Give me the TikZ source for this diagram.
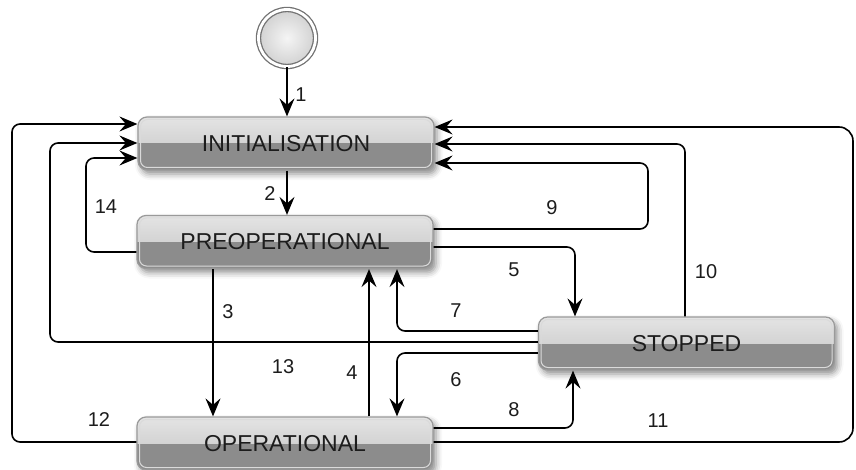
\documentclass[tikz,border=0pt]{standalone}
\usepackage{fontspec}
\setmainfont{Liberation Sans}
\usetikzlibrary{arrows.meta,shadows.blur,calc}

\definecolor{boxtop}{HTML}{E4E4E4}
\definecolor{boxmid}{HTML}{C2C2C2}
\definecolor{boxlow}{HTML}{8C8C8C}
\definecolor{boxedge}{HTML}{9A9A9A}
\definecolor{boxgloss}{HTML}{DADADA}
\definecolor{ink}{HTML}{1C1C1C}

\tikzset{
  statebox/.style={
    rounded corners=9pt, minimum width=296pt, minimum height=53pt,
    inner sep=0pt, draw=boxedge, line width=1.2pt,
    font=\fontsize{23}{25}\selectfont, text=ink,
    blur shadow={shadow xshift=3pt, shadow yshift=-4pt,
                 shadow blur radius=6pt, shadow opacity=45},
    path picture={
      \fill[sharp corners, top color=boxtop, bottom color=boxmid]
        (path picture bounding box.north west) rectangle (path picture bounding box.east);
      \fill[sharp corners, boxlow]
        (path picture bounding box.west) rectangle (path picture bounding box.south east);
      \draw[boxgloss, line width=1pt, rounded corners=7pt]
        ([shift={(2.5pt,-2.5pt)}]path picture bounding box.north west) rectangle
        ([shift={(-2.5pt,2.5pt)}]path picture bounding box.south east);
    }},
  startdot/.style={circle, minimum size=57pt, inner sep=0pt,
    draw=black!55, line width=1.3pt, double=white, double distance=2.8pt,
    inner color=white!96!black, outer color=black!18},
  flow/.style={draw=black, line width=1.6pt, rounded corners=8pt,
    -{Stealth[length=18pt,width=15pt,inset=6.5pt]}},
  num/.style={font=\fontsize{20}{22}\selectfont, text=ink, inner sep=0pt},
}

\begin{document}
\begin{tikzpicture}[x=1pt,y=-1pt]
\useasboundingbox (0,0) rectangle (856,470);

% states
\node[startdot] (st) at (287,38) {};
\node[statebox] (I) at (286,143.5) {INITIALISATION};
\node[statebox] (P) at (285,242) {PREOPERATIONAL};
\node[statebox] (O) at (285,443.5) {OPERATIONAL};
\node[statebox] (S) at (686.5,343.5) {STOPPED};

% routing points of the transitions
\coordinate (c1) at (287,0);
\coordinate (c3) at (213,0);
\coordinate (c4) at (369,0);
\coordinate (c5) at (575,247);
\coordinate (c6) at (397,353);
\coordinate (c7) at (397,331);
\coordinate (c8) at (573,428);
\coordinate (c9a) at (648,229);
\coordinate (c9b) at (648,163);
\coordinate (c10) at (685,144);
\coordinate (c11a) at (853,442);
\coordinate (c11b) at (853,127);
\coordinate (c12a) at (12,442);
\coordinate (c12b) at (12,124);
\coordinate (c13a) at (50,342);
\coordinate (c13b) at (50,143);
\coordinate (c14a) at (86,252);
\coordinate (c14b) at (86,158);

% transitions
\draw[flow] (st.south -| c1) -- (I.north -| c1);
\draw[flow] (I.south -| c1) -- (P.north -| c1);
\draw[flow] (P.south -| c3) -- (O.north -| c3);
\draw[flow] (O.north -| c4) -- (P.south -| c4);
\draw[flow] (P.east |- c5) -- (c5) -- (S.north -| c5);
\draw[flow] (S.west |- c6) -- (c6) -- (O.north -| c6);
\draw[flow] (S.west |- c7) -- (c7) -- (P.south -| c7);
\draw[flow] (O.east |- c8) -- (c8) -- (S.south -| c8);
\draw[flow] (P.east |- c9a) -- (c9a) -- (c9b) -- (I.east |- c9b);
\draw[flow] (S.north -| c10) -- (c10) -- (I.east |- c10);
\draw[flow, rounded corners=14pt] (O.east |- c11a) -- (c11a) -- (c11b) -- (I.east |- c11b);
\draw[flow] (O.west |- c12a) -- (c12a) -- (c12b) -- (I.west |- c12b);
\draw[flow] (S.west |- c13a) -- (c13a) -- (c13b) -- (I.west |- c13b);
\draw[flow] (P.west |- c14a) -- (c14a) -- (c14b) -- (I.west |- c14b);

% transition numbers
\node[num] (n1) at (301,95) {1};
\node[num] (n2) at (270,194) {2};
\node[num] (n3) at (228,312) {3};
\node[num] (n4) at (352,373) {4};
\node[num] (n5) at (514,270) {5};
\node[num] (n6) at (456,380) {6};
\node[num] (n7) at (456,311) {7};
\node[num] (n8) at (514,410) {8};
\node[num] (n9) at (552,208) {9};
\node[num] (n10) at (706,272) {10};
\node[num] (n11) at (658,421) {11};
\node[num] (n12) at (99,420) {12};
\node[num] (n13) at (283,367) {13};
\node[num] (n14) at (106,207) {14};
\end{tikzpicture}
\end{document}
